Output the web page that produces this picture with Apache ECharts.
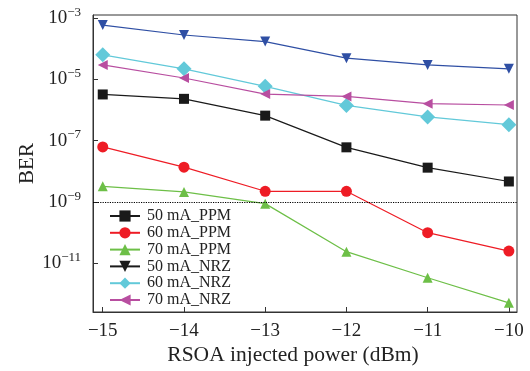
<!DOCTYPE html>
<html>
<head>
<meta charset="utf-8">
<script src="https://cdn.jsdelivr.net/npm/echarts@6/dist/echarts.min.js"></script>
<style>html,body{margin:0;padding:0;background:#fff}#c{width:530px;height:371px}</style>
</head>
<body>
<div id="c"></div>
<script>
const power = [-15, -14, -13, -12, -11, -10];
const xTicks = [-15, -14, -13, -12, -11, -10];
const yTickExponents = [-11, -9, -7, -5, -3];
const ber50PPM = [3.2e-6, 2.3e-6, 6.5e-7, 6.0e-8, 1.3e-8, 4.6e-9];
const ber60PPM = [6.2e-8, 1.35e-8, 2.2e-9, 2.2e-9, 9.8e-11, 2.45e-11];
const ber70PPM = [3.2e-9, 2.1e-9, 8.7e-10, 2.35e-11, 3.3e-12, 5.0e-13];
const ber50NRZ = [5.9e-4, 2.8e-4, 1.7e-4, 4.9e-5, 2.95e-5, 2.2e-5];
const ber60NRZ = [6.3e-5, 2.2e-5, 5.9e-6, 1.4e-6, 5.9e-7, 3.3e-7];
const ber70NRZ = [2.95e-5, 1.1e-5, 3.3e-6, 2.75e-6, 1.6e-6, 1.45e-6];
const fecLimit = 1e-9;

const FONT = 'Liberation Serif';
function pts(arr) { return arr.map((v, i) => [power[i], Math.log10(v)]); }
function mk(name, data, color, symbol, size, rot) {
  return {
    name: name, type: 'line', data: pts(data),
    symbol: symbol, symbolSize: size, symbolRotate: rot || 0,
    lineStyle: { color: color, width: 1.2 },
    itemStyle: { color: color },
    z: 3
  };
}
const series = [
  mk('50 mA_PPM', ber50PPM, '#1a1a1a', 'rect', 10),
  mk('60 mA_PPM', ber60PPM, '#ee1c25', 'circle', 11),
  mk('70 mA_PPM', ber70PPM, '#6dbf47', 'triangle', 10),
  mk('50 mA_NRZ', ber50NRZ, '#2f4fa4', 'triangle', 10, 180),
  mk('60 mA_NRZ', ber60NRZ, '#62c9d9', 'diamond', 15),
  mk('70 mA_NRZ', ber70NRZ, '#b84ea0', 'triangle', 10, 90)
];
series[0].markLine = {
  silent: true, symbol: ['none', 'none'], label: { show: false },
  lineStyle: { color: '#000', type: 'dotted', width: 1.2 },
  data: [{ yAxis: Math.log10(fecLimit) }]
};

const chart = echarts.init(document.getElementById('c'), null, { renderer: 'canvas' });
chart.setOption({
  animation: false,
  backgroundColor: '#fff',
  grid: { left: 93, right: 13, top: 15, bottom: 58, show: true, borderColor: '#333', borderWidth: 1, backgroundColor: 'transparent' },
  legend: {
    orient: 'vertical', left: 104, top: 203,
    itemWidth: 30, itemHeight: 14, itemGap: 0.8,
    textStyle: { fontFamily: FONT, fontSize: 16, color: '#222', padding: [0, 0, 0, 2] },
    data: [
      { name: '50 mA_PPM' }, { name: '60 mA_PPM' }, { name: '70 mA_PPM' },
      { name: '50 mA_NRZ', itemStyle: { color: '#1a1a1a' }, lineStyle: { color: '#1a1a1a' } },
      { name: '60 mA_NRZ' }, { name: '70 mA_NRZ' }
    ]
  },
  xAxis: {
    type: 'value', min: -15.12, max: -9.9,
    name: 'RSOA injected power (dBm)', nameLocation: 'middle', nameGap: 32, nameMoveOverlap: false,
    nameTextStyle: { fontFamily: FONT, fontSize: 21.5, color: '#222', padding: [0, 24, 0, 0] },
    axisLine: { lineStyle: { color: '#333', width: 1 } },
    axisTick: { inside: true, length: 5, customValues: xTicks, lineStyle: { color: '#333' } },
    axisLabel: { customValues: xTicks, margin: 10, fontFamily: FONT, fontSize: 19, color: '#222',
      formatter: v => (v < 0 ? '\u2212' : '') + Math.abs(v) },
    splitLine: { show: false }
  },
  yAxis: {
    type: 'value', min: -12.6, max: -2.9,
    name: 'BER', nameLocation: 'middle', nameGap: 55, nameMoveOverlap: false,
    nameTextStyle: { fontFamily: FONT, fontSize: 21, color: '#222' },
    axisLine: { lineStyle: { color: '#333', width: 1 } },
    axisTick: { inside: true, length: 5, customValues: yTickExponents, lineStyle: { color: '#333' } },
    axisLabel: {
      customValues: yTickExponents, margin: 12, color: '#222',
      formatter: v => '{b|10}{s|\u2212' + Math.abs(v) + '}',
      rich: {
        b: { fontFamily: FONT, fontSize: 19, color: '#222', lineHeight: 24 },
        s: { fontFamily: FONT, fontSize: 13, color: '#222', verticalAlign: 'top', lineHeight: 14 }
      }
    },
    splitLine: { show: false }
  },
  series: series
});
</script>
</body>
</html>
